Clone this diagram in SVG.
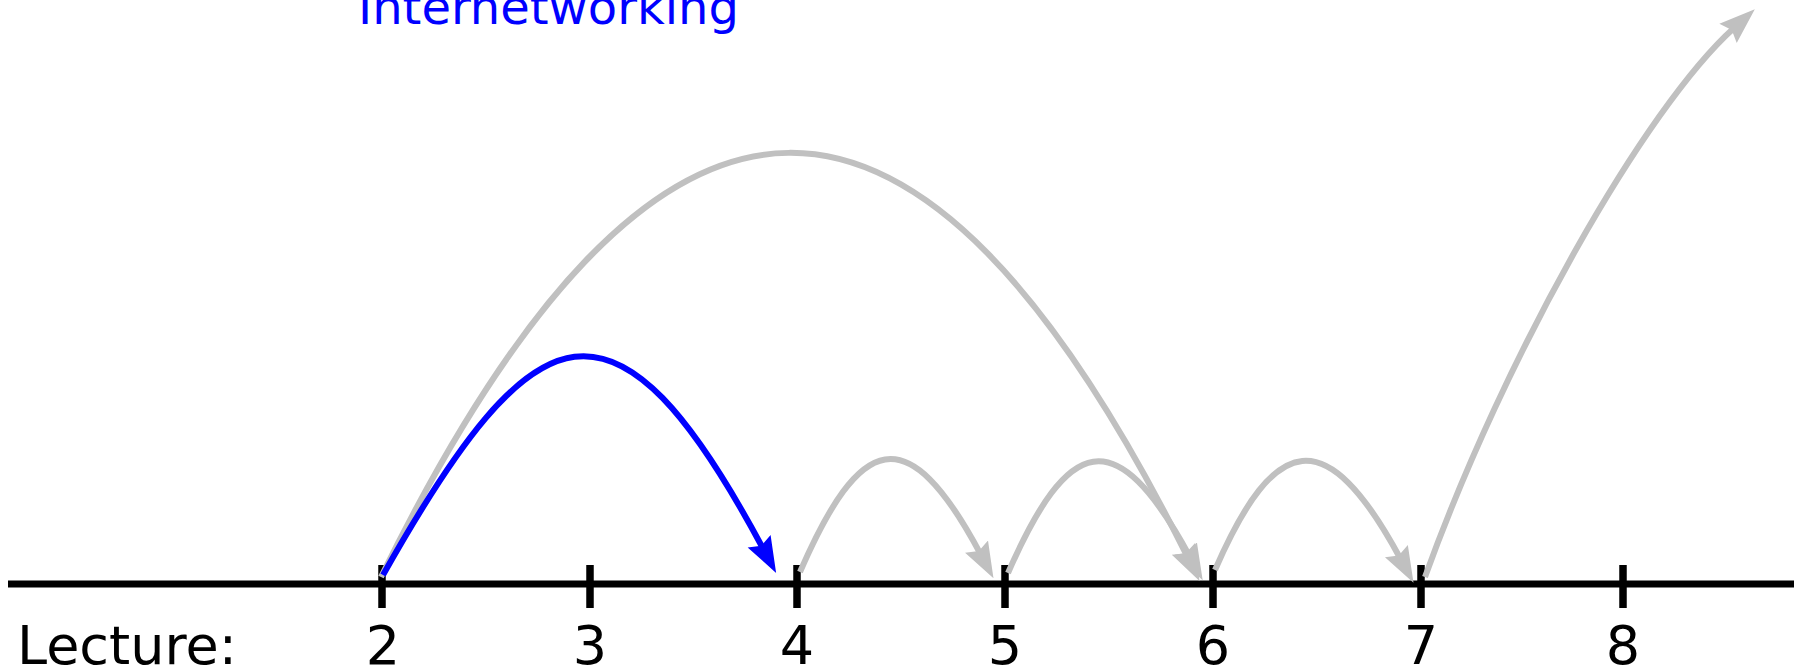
<svg xmlns="http://www.w3.org/2000/svg" width="1804" height="671" viewBox="0 0 1804 671">
  <style>
    .axis { stroke: #000000; stroke-width: 7; fill: none; }
    .tick { stroke: #000000; stroke-width: 7.5; fill: none; }
    .lbl { font-family: "DejaVu Sans", Verdana, sans-serif; font-size: 54px; fill: #000000; }
    .num { text-anchor: middle; }
    .title { font-family: "DejaVu Sans", Verdana, sans-serif; font-size: 48px; fill: #0000FF; }
    .gray { stroke: #C0C0C0; stroke-width: 6; fill: none; marker-end: url(#ahGray); }
    .blue { stroke: #0000FF; stroke-width: 6; fill: none; marker-end: url(#ahBlue); }
  </style>
  <defs>
    <marker id="ahGray" markerUnits="userSpaceOnUse" markerWidth="40" markerHeight="30" refX="8" refY="15" orient="auto">
      <path d="M0,2 L36,15 L0,28 L5,15 Z" fill="#C0C0C0"/>
    </marker>
    <marker id="ahBlue" markerUnits="userSpaceOnUse" markerWidth="40" markerHeight="30" refX="8" refY="15" orient="auto">
      <path d="M0,2 L36,15 L0,28 L5,15 Z" fill="#0000FF"/>
    </marker>
  </defs>

  <rect x="0" y="0" width="1804" height="671" fill="#FFFFFF"/>

  <text class="title" x="358" y="24">Internetworking</text>

  <g id="axis">
    <line class="axis" x1="8" y1="584" x2="1794" y2="584"/>
    <text class="lbl" x="17" y="664">Lecture:</text>
  </g>

  <g id="lecture-2"><line class="tick" x1="382" y1="565" x2="382" y2="608"/><text class="lbl num" x="383" y="664">2</text></g>
  <g id="lecture-3"><line class="tick" x1="590" y1="565" x2="590" y2="608"/><text class="lbl num" x="590" y="664">3</text></g>
  <g id="lecture-4"><line class="tick" x1="797" y1="565" x2="797" y2="608"/><text class="lbl num" x="797" y="664">4</text></g>
  <g id="lecture-5"><line class="tick" x1="1005" y1="565" x2="1005" y2="608"/><text class="lbl num" x="1005" y="664">5</text></g>
  <g id="lecture-6"><line class="tick" x1="1213" y1="565" x2="1213" y2="608"/><text class="lbl num" x="1213" y="664">6</text></g>
  <g id="lecture-7"><line class="tick" x1="1421" y1="565" x2="1421" y2="608"/><text class="lbl num" x="1421" y="664">7</text></g>
  <g id="lecture-8"><line class="tick" x1="1623" y1="565" x2="1623" y2="608"/><text class="lbl num" x="1623" y="664">8</text></g>

  <g id="connectors">
    <path class="gray" d="M381,577 C660,10 920,20 1187,556"/>
    <path class="gray" d="M800,572 C860,434 906.8,416 980.3,553.6"/>
    <path class="gray" d="M1008,573 C1068,436 1115,419 1189.3,555.6"/>
    <path class="gray" d="M1215,570 C1275,432 1326,421 1400.2,558.2"/>
    <path class="gray" d="M1425,577 C1505,355 1645,108 1734,28"/>
    <path class="blue" d="M383,575 C535,305 615,272 762.9,548.3"/>
  </g>
</svg>
